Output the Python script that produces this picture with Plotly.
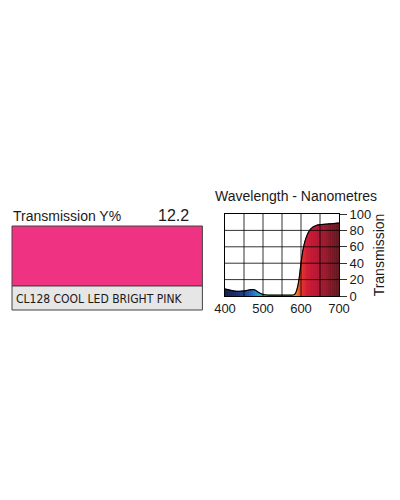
import plotly.graph_objects as go

# transmission curve of the filter, every 5 nm
wavelength = list(range(400, 705, 5))
transmission = [8.5, 8, 7.5, 7, 6.5, 6, 5.8, 5.7, 5.8, 6, 6.2, 6.5, 7, 7.5, 7.8, 7.8, 7, 5.5, 4, 2.8,
                2, 1.5, 1.2, 1, 1, 1, 1, 1, 1, 1, 1, 1, 1, 1, 1, 1, 1.2, 3, 9, 21,
                40, 56, 66, 73, 78, 81.5, 83.5, 85, 86, 86.7, 87, 87.2, 87.4, 87.6, 87.8, 88, 88.1, 88.3, 88.5, 88.8, 89]

x_ticks = [400, 500, 600, 700]
y_ticks = [0, 20, 40, 60, 80, 100]
grid_x = [450, 500, 550, 600, 650]
grid_y = [20, 40, 60, 80]

filter_name = "CL128 COOL LED BRIGHT PINK"
trans_y = "12.2"

# spectrum colours used under the curve
spec_nm = [400, 430, 460, 475, 490, 505, 530, 560, 580, 590, 600, 615, 640, 665, 700]
spec_rgb = [(22, 30, 75), (25, 45, 110), (30, 75, 160), (35, 115, 195), (35, 165, 205), (50, 175, 140),
            (110, 185, 70), (210, 200, 40), (245, 185, 30), (240, 120, 35), (228, 62, 42), (212, 28, 52),
            (188, 22, 52), (150, 26, 45), (95, 25, 32)]


def spec_color(nm):
    for i in range(len(spec_nm) - 1):
        a, b = spec_nm[i], spec_nm[i + 1]
        if a <= nm <= b:
            f = (nm - a) / (b - a)
            c = [round(spec_rgb[i][k] + f * (spec_rgb[i + 1][k] - spec_rgb[i][k])) for k in range(3)]
            return "rgb(%d,%d,%d)" % tuple(c)
    return "rgb(%d,%d,%d)" % spec_rgb[-1]


fig = go.Figure()

# coloured fill, one strip per pair of points
for i in range(len(wavelength) - 1):
    w0, w1 = wavelength[i], wavelength[i + 1]
    t0, t1 = transmission[i], transmission[i + 1]
    col = spec_color((w0 + w1) / 2)
    fig.add_trace(go.Scatter(x=[w0, w0, w1, w1], y=[0, t0, t1, 0], fill="toself", fillcolor=col,
                             mode="lines", line=dict(color=col, width=0.8), hoverinfo="skip"))

fig.add_trace(go.Scatter(x=wavelength, y=transmission, mode="lines",
                         line=dict(color="black", width=1.2, shape="spline", smoothing=0.6)))

# grid drawn over the fill
for g in grid_x:
    fig.add_shape(type="line", xref="x", yref="y domain", x0=g, x1=g, y0=0, y1=1,
                  line=dict(color="rgba(0,0,0,0.8)", width=1), layer="above")
for g in grid_y:
    fig.add_shape(type="line", xref="x domain", yref="y", x0=0, x1=1, y0=g, y1=g,
                  line=dict(color="rgba(0,0,0,0.8)", width=1), layer="above")

# swatch and name box on the left
fig.add_shape(type="rect", xref="paper", yref="paper", x0=0.01, x1=0.486, y0=0.444, y1=0.564,
              fillcolor="#ef3282", line=dict(color="#444", width=1))
fig.add_shape(type="rect", xref="paper", yref="paper", x0=0.01, x1=0.486, y0=0.396, y1=0.444,
              fillcolor="#e6e6e6", line=dict(color="#444", width=1))

fig.add_annotation(text="Transmission Y%", xref="paper", yref="paper", x=0.008, y=0.584,
                   xanchor="left", yanchor="middle", showarrow=False, font=dict(size=14, color="#1a1a1a"))
fig.add_annotation(text=trans_y, xref="paper", yref="paper", x=0.457, y=0.585,
                   xanchor="right", yanchor="middle", showarrow=False, font=dict(size=16, color="#1a1a1a"))
fig.add_annotation(text=filter_name, xref="paper", yref="paper", x=0.016, y=0.419,
                   xanchor="left", yanchor="middle", showarrow=False,
                   font=dict(size=12, color="#1a1a1a",
                             family="Liberation Sans Narrow, DejaVu Sans Condensed, Arial"))
fig.add_annotation(text="Wavelength - Nanometres", xref="paper", yref="paper", x=0.719, y=0.625,
                   xanchor="center", yanchor="middle", showarrow=False, font=dict(size=14, color="#1a1a1a"))

fig.update_layout(
    width=400, height=500,
    margin=dict(l=0, r=0, t=0, b=0, autoexpand=False),
    paper_bgcolor="white", plot_bgcolor="white",
    showlegend=False,
    font=dict(family="Liberation Sans, Arial, sans-serif", color="#1a1a1a"),
    xaxis=dict(domain=[0.5425, 0.8275], range=[400, 700], tickvals=x_ticks, showgrid=False,
               zeroline=False, showline=True, linecolor="black", linewidth=1, mirror=True,
               ticks="", tickfont=dict(size=13), layer="above traces", fixedrange=True,
               automargin=False),
    yaxis=dict(domain=[0.424, 0.588], range=[0, 100], tickvals=y_ticks, side="right", showgrid=False,
               zeroline=False, showline=True, linecolor="black", linewidth=1, mirror=True,
               ticks="outside", ticklen=7, tickcolor="#333", tickfont=dict(size=13),
               title=dict(text="Transmission", font=dict(size=14), standoff=3),
               layer="above traces", fixedrange=True, automargin=False),
)

fig.write_html("out.html")
